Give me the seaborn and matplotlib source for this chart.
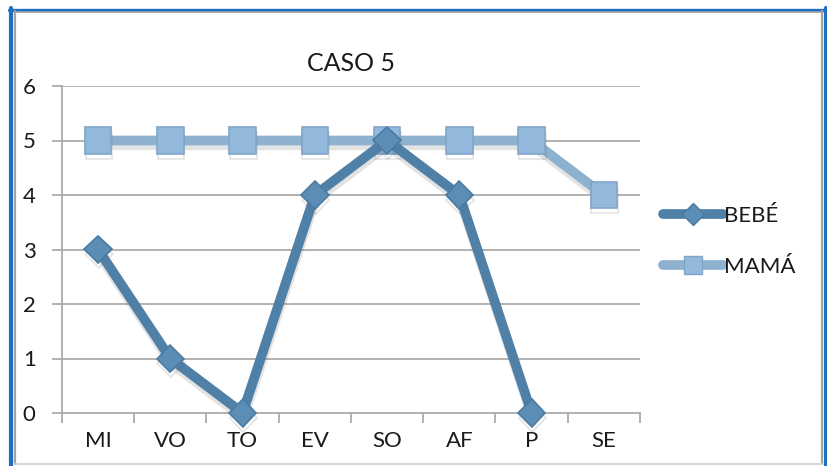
import matplotlib
matplotlib.use("Agg")
import matplotlib.pyplot as plt
from matplotlib.lines import Line2D
import matplotlib.patheffects as pe
import seaborn as sns
import pandas as pd
import numpy as np

# Chart data
categorias = ["MI", "VO", "TO", "EV", "SO", "AF", "P", "SE"]
bebe = [3, 1, 0, 4, 5, 4, 0, None]
mama = [5, 5, 5, 5, 5, 5, 5, 4]
y_ticks = [0, 1, 2, 3, 4, 5, 6]

W, H = 828, 466
sns.set_theme(style="white")
plt.rcParams["font.family"] = ["Lato", "DejaVu Sans"]
plt.rcParams["text.color"] = "#1A1A1A"

fig = plt.figure(figsize=(W / 100, H / 100), dpi=100)
fig.patch.set_facecolor("white")


def fx(px):
    return px / W


def fy(py):
    return 1 - py / H


ax = fig.add_axes([fx(62), fy(413), fx(640) - fx(62), fy(86) - fy(413)])

df_bebe = pd.DataFrame({"cat": categorias, "valor": bebe}).dropna()
df_mama = pd.DataFrame({"cat": categorias, "valor": mama})
df_bebe["x"] = [categorias.index(c) for c in df_bebe["cat"]]
df_mama["x"] = [categorias.index(c) for c in df_mama["cat"]]

shadow = [pe.SimpleLineShadow(offset=(0.5, -3.5), shadow_color="#666666", alpha=0.18), pe.Normal()]

c_bebe = "#4F80A8"
c_mama = "#8DB1CF"

sns.lineplot(data=df_mama, x="x", y="valor", ax=ax, color=c_mama, linewidth=7,
             marker="s", markersize=19, markerfacecolor="#92B8DC",
             markeredgecolor="#7FA6C8", markeredgewidth=1.2,
             path_effects=shadow, zorder=3, solid_capstyle="round", clip_on=False)
sns.lineplot(data=df_bebe, x="x", y="valor", ax=ax, color=c_bebe, linewidth=7,
             marker="D", markersize=14, markerfacecolor="#5B8DB5",
             markeredgecolor="#4A7BA3", markeredgewidth=1.2,
             path_effects=shadow, zorder=4, solid_capstyle="round", clip_on=False)

ax.set_xlim(-0.5, len(categorias) - 0.5)
ax.set_ylim(0, 6)
ax.set_yticks(y_ticks)
ax.set_xticks(range(len(categorias)))
ax.set_xticklabels(categorias)
ax.set_xticks(np.arange(-0.5, len(categorias), 1), minor=True)
ax.set_xlabel("")
ax.set_ylabel("")

grid_c = "#ABABAB"
for y in y_ticks[1:]:
    ax.axhline(y, color=grid_c, linewidth=1.3, zorder=1)

for s in ["top", "right"]:
    ax.spines[s].set_visible(False)
for s in ["left", "bottom"]:
    ax.spines[s].set_color(grid_c)
    ax.spines[s].set_linewidth(1.3)
    ax.spines[s].set_zorder(2)

ax.tick_params(axis="x", which="major", length=0, pad=13, labelsize=16, labelcolor="#1A1A1A")
ax.tick_params(axis="x", which="minor", length=7, width=1.3, color=grid_c, direction="out")
ax.tick_params(axis="y", which="major", length=7, width=1.3, color=grid_c, direction="out",
               pad=12, labelsize=16, labelcolor="#1A1A1A")
ax.tick_params(bottom=True, left=True, which="both")

ax.set_title("CASO 5", fontsize=18, pad=11, color="#1A1A1A")

handles = [
    Line2D([], [], color=c_bebe, linewidth=7, marker="D", markersize=11,
           markerfacecolor="#5B8DB5", markeredgecolor="#4A7BA3", solid_capstyle="round"),
    Line2D([], [], color=c_mama, linewidth=7, marker="s", markersize=13,
           markerfacecolor="#92B8DC", markeredgecolor="#7FA6C8", solid_capstyle="round"),
]
fig.legend(handles, ["BEBÉ", "MAMÁ"], loc="upper left",
           bbox_to_anchor=(fx(652), fy(195)), frameon=False, fontsize=16,
           handlelength=2.7, handletextpad=0.05, labelspacing=1.4, borderpad=0)

# Chart-area frame
blue = "#1E6FC1"
gray = "#A3A3A3"
frame = [
    ((fx(11), fx(11)), (fy(8), fy(H + 5)), blue, 3.0),
    ((fx(9), fx(828)), (fy(9.5), fy(9.5)), blue, 2.4),
    ((fx(826), fx(826)), (fy(8), fy(H + 5)), blue, 3.0),
    ((fx(15), fx(15)), (fy(11), fy(464)), gray, 1.6),
    ((fx(15), fx(822)), (fy(11.5), fy(11.5)), gray, 1.2),
    ((fx(822), fx(822)), (fy(11), fy(464)), gray, 1.6),
    ((fx(15), fx(822)), (fy(463.5), fy(463.5)), "#D0D0D0", 1.2),
]
for xs, ys, c, lw in frame:
    fig.add_artist(Line2D(xs, ys, color=c, linewidth=lw, transform=fig.transFigure))

fig.savefig("out.png", dpi=100, facecolor="white")
